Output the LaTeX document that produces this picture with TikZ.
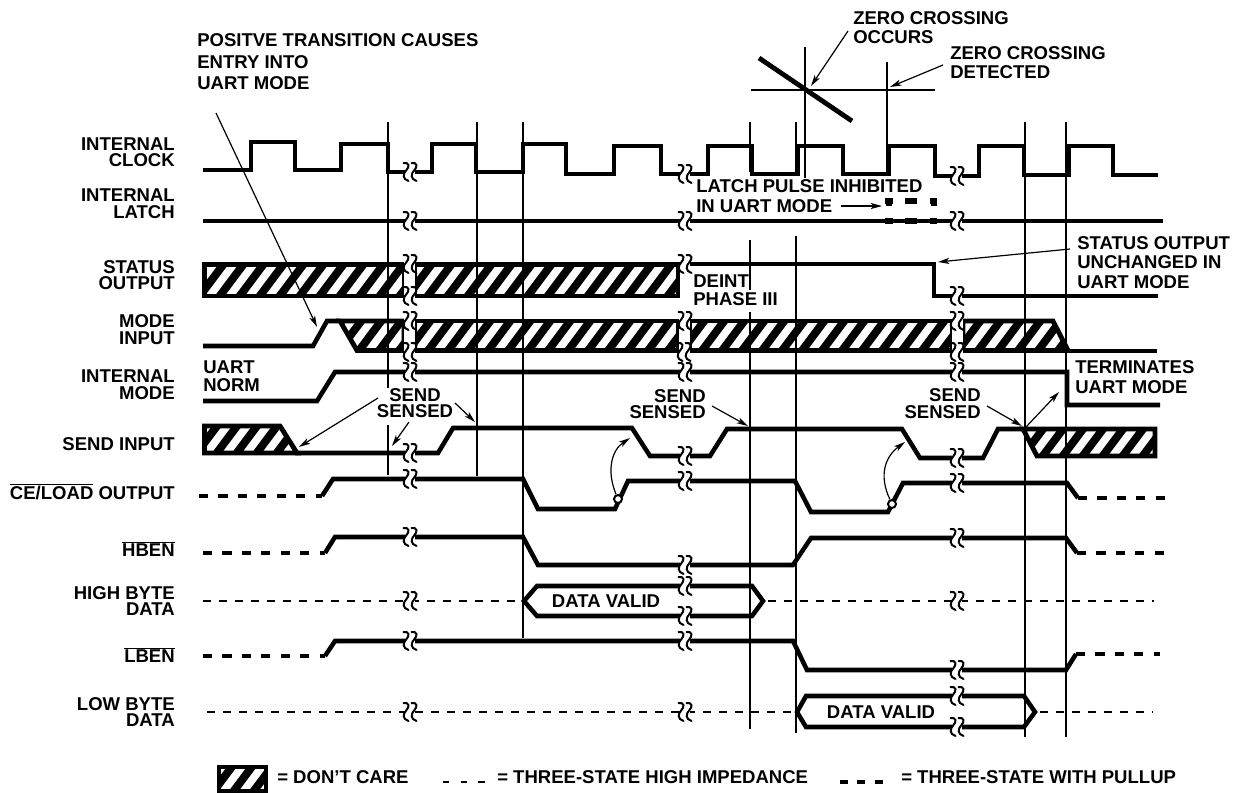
\documentclass[tikz,border=0pt]{standalone}
\usepackage{fontspec}
\setmainfont{Liberation Sans}
\usetikzlibrary{arrows.meta}
\tikzset{
  sig/.style={line width=3.4pt,line join=miter,line cap=butt},
  hbord/.style={line width=3.6pt,line join=miter},
  stripe/.style={line width=6pt},
  thin line/.style={line width=1pt},
  tristate/.style={line width=1.5pt,dash pattern=on 6pt off 6pt},
  pullup/.style={line width=3.6pt,dash pattern=on 6.8pt off 7.8pt},
  brkline/.style={line width=1.5pt,line cap=round},
  arr/.style={line width=.9pt,-{Stealth[length=8.5pt,width=4.6pt,inset=2.2pt]}},
  lbl/.style={inner sep=0pt,font=\fontsize{13.9}{12.4}\selectfont\bfseries},
  lblm/.style={inner sep=0pt,font=\fontsize{13.9}{13.2}\selectfont\bfseries},
  lblw/.style={inner sep=0pt,font=\fontsize{13.9}{14.7}\selectfont\bfseries},
  lblt/.style={inner sep=0pt,font=\fontsize{13.9}{16.2}\selectfont\bfseries},
}
% break mark: two parallel squiggles
\newcommand\brk[2]{%
  \begin{scope}[shift={(#1,#2)}]
    \fill[white] (-5,-4) rectangle (5,4);
    \foreach \d in {-4.5,3.5}{
      \draw[brkline] (\d-2,-9) .. controls (\d+4,-10) and (\d+4,-5) .. (\d+1,-2)
         .. controls (\d-3,2) and (\d-3,7) .. (\d+3,9);
    }
  \end{scope}}
% hatched region: #1 polygon, #2 x of a black stripe on line y=#3
\newcommand\hatchfill[3]{%
  \begin{scope}
    \clip #1;
    \foreach \k in {-3,...,45}{
      \draw[stripe] ({#2+20*\k-7.5},#3+10) -- ({#2+20*\k+35},#3-46.7);
    }
  \end{scope}
  \draw[hbord] #1;}
\begin{document}
\begin{tikzpicture}[x=.75pt,y=-.75pt]
\useasboundingbox (0,0) rectangle (1236,793);
\fill[white] (0,0) rectangle (1236,793);

% ---- vertical reference lines
\foreach \x/\a/\b in {388/122/388,388/425/475,477/122/476,523/122/638,750/122/172,750/240/290,750/312/729,
   796/122/172,796/236/733,1025/122/737,1066/122/737,805/47/178,887/62/175}{
  \draw[thin line] (\x,\a) -- (\x,\b);
}
\draw[thin line] (751,90) -- (935,90);
\draw[line width=3.6pt] (759,58) -- (852,121);

% ---- clock
\draw[sig] (203,170)--(251,170)--(251,142)--(295,142)--(295,170)--(341,170)--(341,144)--(388,144)--(388,172)
  --(432,172)--(432,144)--(476,144)--(476,172)--(523,172)--(523,144)--(566,144)--(566,174)--(614,174)--(614,146)
  --(661,146)--(661,174)--(708,174)--(708,146)--(752,146)--(752,174)--(798,174)--(798,146)--(843,146)--(843,174)
  --(889,174)--(889,146)--(935,146)--(935,176)--(979,176)--(979,146)--(1024,146)--(1024,175)--(1069,175)
  --(1069,146)--(1113,146)--(1113,175)--(1158,175);
\brk{410}{172}\brk{685}{174}\brk{957}{176}

% ---- latch
\draw[sig] (203,221)--(1163,221);
\foreach \a/\b in {885/893,905/917,930/937}{
  \draw[line width=5pt] (\a,221)--(\b,221);
  \draw[line width=3.8pt] (\a,201)--(\b,201);
}
\draw[line width=3.8pt] (889,201)--(889,206);
\draw[line width=3.8pt] (934,201)--(934,206);
\brk{410}{221}\brk{685}{221}\brk{957}{221}

% ---- status
\hatchfill{(204.5,264.5)--(404,264.5)--(404,296)--(204.5,296)--cycle}{222}{293}
\hatchfill{(415,264.5)--(678,264.5)--(678,296)--(415,296)--cycle}{430}{293}
\fill[white] (403.5,258) rectangle (415,302);
\brk{410}{264}\brk{410}{296}\brk{685}{264}
\draw[sig] (690,264)--(934,264)--(934,296)--(1158,296);
\brk{957}{296}

% ---- mode input
\draw[sig] (203,346)--(313,346)--(327,321)--(340,321);
\hatchfill{(340,321)--(357,350.5)--(404,350.5)--(404,321)--cycle}{361}{348}
\hatchfill{(415,321)--(678,321)--(678,350.5)--(415,350.5)--cycle}{430}{348}
\hatchfill{(690,321)--(952,321)--(952,350.5)--(690,350.5)--cycle}{704}{348}
\hatchfill{(963,321)--(1053,321)--(1068,350.5)--(963,350.5)--cycle}{980}{348}
\draw[sig] (1066,351)--(1157,351);
\fill[white] (403.5,316) rectangle (415,356);
\fill[white] (678.5,316) rectangle (690,356);
\fill[white] (952,316) rectangle (963,356);
\brk{410}{321}\brk{410}{352}\brk{685}{321}\brk{684}{352}\brk{957}{321}\brk{957}{352}

% ---- internal mode
\draw[sig] (203,401)--(317,401)--(335,372)--(1067,372)--(1067,405)--(1160,405);
\brk{410}{372}\brk{685}{372}\brk{957}{372}

% ---- send input
\hatchfill{(204.5,426)--(280,426)--(297,453)--(204.5,453)--cycle}{219}{450}
\draw[sig] (295,453)--(438,453)--(453,428)--(632,428)--(650,456)--(710,456)--(727,429)--(902,429)--(920,458)--(983,458)--(998,429)--(1023,429);
\hatchfill{(1023,429)--(1037,456)--(1155,456)--(1155,429)--cycle}{1045}{453}
\brk{410}{453}\brk{685}{456}\brk{957}{458}

% ---- CE/LOAD
\draw[pullup] (199,496)--(322,496);
\draw[sig] (322,496)--(333,479)--(523,479)--(538,509)--(615,509)--(628,481)--(795,481)--(811,512)--(888,512)--(903,483)--(1067,483)--(1078,498);
\draw[pullup] (1078,498)--(1165,498);
\brk{410}{479}\brk{685}{481}\brk{957}{483}
\node[circle,draw,line width=1.5pt,fill=white,minimum size=6pt,inner sep=0pt] (cedot1) at (618,499) {};
\node[circle,draw,line width=1.5pt,fill=white,minimum size=6pt,inner sep=0pt] (cedot2) at (892,504) {};
\coordinate (sw1) at (630,438);
\coordinate (sw2) at (905,442);
\draw[arr] (cedot1) .. controls (606,470) and (612,450) .. (sw1);
\draw[arr] (cedot2) .. controls (878,474) and (886,456) .. (sw2);

% ---- HBEN
\draw[pullup] (203,553)--(325,553);
\draw[sig] (325,553)--(335,537)--(523,537)--(538,565)--(793,565)--(811,538)--(1066,538)--(1077,553);
\draw[pullup] (1077,553)--(1165,553);
\brk{410}{537}\brk{685}{565}\brk{957}{538}

% ---- high byte data
\draw[tristate] (203,601)--(524,601);
\draw[sig] (524,601)--(537,586)--(752,586)--(763,601)--(752,616)--(537,616)--cycle;
\draw[tristate] (768,601)--(1154,601);
\brk{410}{601}\brk{685}{586}\brk{685}{616}\brk{957}{601}
\node[lbl] (dv1) at (606,601) {DATA VALID};

% ---- LBEN
\draw[pullup] (203,656)--(325,656);
\draw[sig] (325,656)--(335,641)--(793,641)--(807,670)--(1066,670)--(1076,654);
\draw[pullup] (1076,654)--(1160,654);
\brk{410}{641}\brk{685}{641}\brk{957}{670}

% ---- low byte data
\draw[tristate] (207,712)--(797,712);
\draw[sig] (797,712)--(806,696)--(1024,696)--(1035,712)--(1024,727)--(806,727)--cycle;
\draw[tristate] (1040,712)--(1153,712);
\brk{410}{712}\brk{685}{712}\brk{957}{696}\brk{957}{727}
\node[lbl] (dv2) at (881,712) {DATA VALID};

% ---- left labels
\node[lbl,anchor=east,align=right] (l1) at (175,152) {INTERNAL\\CLOCK};
\node[lbl,anchor=east,align=right] (l2) at (175,203.5) {INTERNAL\\LATCH};
\node[lbl,anchor=east,align=right] (l3) at (175,275) {STATUS\\OUTPUT};
\node[lbl,anchor=east,align=right] (l4) at (175,329.5) {MODE\\INPUT};
\node[lbl,anchor=east,align=right] (l5) at (175,384.5) {INTERNAL\\MODE};
\node[lbl,anchor=east] (l6) at (175,444) {SEND INPUT};
\node[lbl,anchor=east] (l7) at (175,492) {$\overline{\mbox{CE/LOAD}}$ OUTPUT};
\node[lbl,anchor=east] (l8) at (175,549) {$\overline{\mbox{HBEN}}$};
\node[lbl,anchor=east,align=right] (l9) at (175,601) {HIGH BYTE\\DATA};
\node[lbl,anchor=east] (l10) at (175,655) {$\overline{\mbox{LBEN}}$};
\node[lbl,anchor=east,align=right] (l11) at (175,712) {LOW BYTE\\DATA};

% ---- annotations
\node[lblt,anchor=west,align=left] (t1) at (197,62) {POSITVE TRANSITION CAUSES\\ENTRY INTO\\UART MODE};
\node[lblw,anchor=west,align=left] (t2) at (853,27.5) {ZERO CROSSING\\OCCURS};
\node[lblw,anchor=west,align=left] (t3) at (950,62.5) {ZERO CROSSING\\DETECTED};
\node[lblw,anchor=west,align=left] (t4) at (696,196) {LATCH PULSE INHIBITED\\IN UART MODE};
\node[lblw,anchor=west,align=left] (t5) at (1077,262.5) {STATUS OUTPUT\\UNCHANGED IN\\UART MODE};
\node[lblm,anchor=west,align=left] (t6) at (693,290.5) {DEINT\\PHASE III};
\node[lblm,anchor=west,align=left] (t7) at (203,376.5) {UART\\NORM};
\node[lblw,anchor=west,align=left] (t8) at (1075,377) {TERMINATES\\UART MODE};
\node[lbl,align=center] (s1) at (415,403) {SEND\\SENSED};
\node[lbl,anchor=east,align=right] (s2) at (706,404) {SEND\\SENSED};
\node[lbl,anchor=east,align=right] (s3) at (981,403.5) {SEND\\SENSED};

% ---- arrows
\coordinate (a1a) at (216,113); \coordinate (a1b) at (317,327);
\coordinate (a2a) at (848,31);  \coordinate (a2b) at (811,86);
\coordinate (a3a) at (943,65);  \coordinate (a3b) at (890,87);
\coordinate (a4a) at (841,206); \coordinate (a4b) at (882,206);
\coordinate (a5a) at (1070,249);\coordinate (a5b) at (938,262);
\coordinate (a6a) at (378,398); \coordinate (a6b) at (299,447);
\coordinate (a7a) at (409,422); \coordinate (a7b) at (392,446);
\coordinate (a8a) at (455,403); \coordinate (a8b) at (475,422);
\coordinate (a9a) at (712,406); \coordinate (a9b) at (748,426);
\coordinate (a10a) at (987,406);\coordinate (a10b) at (1022,426);
\coordinate (a11a) at (1026,427);\coordinate (a11b) at (1059,392);
\foreach \p in {a1,a2,a3,a4,a5,a6,a7,a8,a9,a10,a11}{
  \draw[arr] (\p a) -- (\p b);
}

% ---- legend
\hatchfill{(219,767)--(266,767)--(266,791)--(219,791)--cycle}{236}{788}
\node[lbl,anchor=west] (k1) at (277,777) {= DON’T CARE};
\draw[line width=1.9pt,dash pattern=on 4.8pt off 8.5pt] (443,782)--(487,782);
\node[lbl,anchor=west] (k2) at (497,777) {= THREE-STATE HIGH IMPEDANCE};
\draw[line width=3.6pt,dash pattern=on 6pt off 7pt] (840,782)--(891,782);
\node[lbl,anchor=west] (k3) at (901,777) {= THREE-STATE WITH PULLUP};
\end{tikzpicture}
\end{document}
